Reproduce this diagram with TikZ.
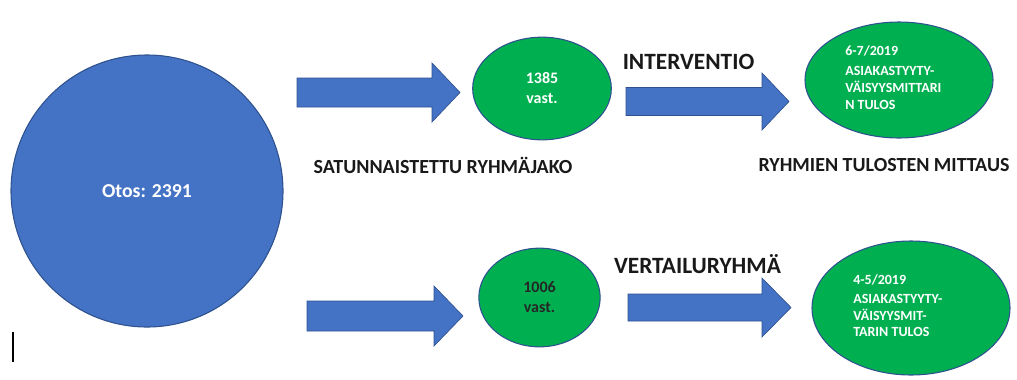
\documentclass[tikz,border=0pt]{standalone}
\usepackage{fontspec}
\setmainfont{Carlito}
\usetikzlibrary{shapes.geometric}
\definecolor{otosblue}{HTML}{4472C4}
\definecolor{edgeblue}{HTML}{2F528F}
\definecolor{groupgreen}{HTML}{00B050}
\tikzset{
  arrowbox/.style={fill=otosblue, draw=edgeblue, line width=0.5pt},
  groupnode/.style={ellipse, fill=groupgreen, draw=edgeblue, line width=0.8pt, inner sep=0pt, align=center, font=\fontsize{12}{15}\selectfont\bfseries},
  steplabel/.style={font=\fontsize{15}{18}\selectfont\bfseries, text=black!90},
  phaselabel/.style={font=\fontsize{17.5}{20}\selectfont\bfseries, text=black!90},
  resulttext/.style={anchor=north west, align=left, text=white, inner sep=0pt, font=\fontsize{10.5}{12.5}\selectfont\bfseries}
}
\newcommand{\blockarrow}[6] {\filldraw[arrowbox] (#1,#4-#5) -- (#2,#4-#5) -- (#2,#4-#6) -- (#3,#4) -- (#2,#4+#6) -- (#2,#4+#5) -- (#1,#4+#5) -- cycle;}

\begin{document}
\begin{tikzpicture}[x=0.75pt, y=-0.75pt]
\useasboundingbox (0,0) rectangle (1017,379);

\node[circle, fill=otosblue, draw=edgeblue, line width=0.8pt, minimum size=204pt, inner sep=0pt, text=white, font=\fontsize{14.8}{17}\selectfont\bfseries] (otos) at (147,191) {Otos: 2391};

\blockarrow{297}{432}{460}{92.5}{14.5}{29.5};
\blockarrow{307}{434}{463}{316}{15}{30};

\node[groupnode, minimum width=104pt, minimum height=77pt, text=white] (g1385) at (542,88.5) {1385\\vast.};
\node[groupnode, minimum width=91pt, minimum height=74pt, text=black!85] (g1006) at (539.5,297.5) {1006\\vast.};

\blockarrow{626}{762}{789}{101.5}{14}{28.5};
\blockarrow{628}{762}{791}{307.5}{13.5}{29.5};

\node[groupnode, minimum width=141pt, minimum height=87pt] (res67) at (899,80) {};
\node[groupnode, minimum width=148.5pt, minimum height=100.5pt] (res45) at (911,308) {};
\node[resulttext] (t67) at (845,45) {6-7/2019\\[3pt]ASIAKASTYYTY-\\VÄISYYSMITTARI\\N TULOS};
\node[resulttext] (t45) at (853,274) {4-5/2019\\[2pt]ASIAKASTYYTY-\\VÄISYYSMIT-\\TARIN TULOS};

\node[phaselabel] (interv) at (688.5,62) {INTERVENTIO};
\node[phaselabel] (vertailu) at (697.5,264) {VERTAILURYHMÄ};
\node[steplabel] (satunn) at (443,165.5) {SATUNNAISTETTU RYHMÄJAKO};
\node[steplabel] (mittaus) at (884,165) {RYHMIEN TULOSTEN MITTAUS};

\draw[line width=0.8pt] (13,332) -- (13,362);
\end{tikzpicture}
\end{document}
